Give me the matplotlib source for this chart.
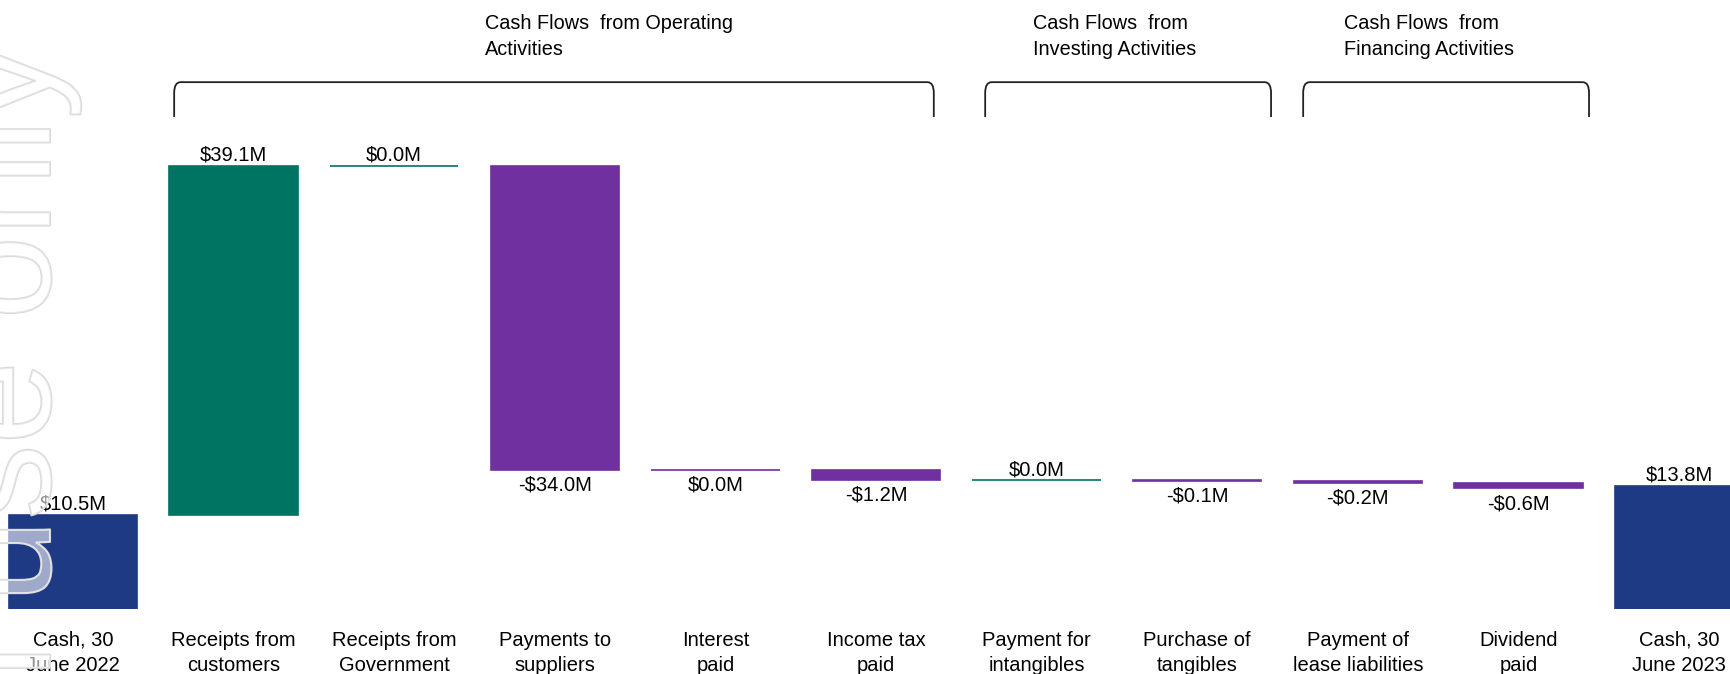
import numpy as np
import matplotlib.pyplot as plt
import matplotlib.patheffects as pe
from matplotlib.path import Path
from matplotlib.patches import PathPatch

plt.rcParams['font.family'] = ['Liberation Sans', 'DejaVu Sans']

# data (in $M)
categories = ['Cash, 30\nJune 2022', 'Receipts from\ncustomers', 'Receipts from\nGovernment',
              'Payments to\nsuppliers', 'Interest\npaid', 'Income tax\npaid',
              'Payment for\nintangibles', 'Purchase of\ntangibles', 'Payment of\nlease liabilities',
              'Dividend\npaid', 'Cash, 30\nJune 2023']
values = [10.5, 39.1, 0.0, -34.0, 0.0, -1.2, 0.0, -0.1, -0.2, -0.6, 13.8]
kinds = ['total', 'up', 'up', 'down', 'down', 'down', 'up', 'down', 'down', 'down', 'total']

group_names = ['Cash Flows  from Operating\nActivities',
               'Cash Flows  from\nInvesting Activities',
               'Cash Flows  from\nFinancing Activities']

colors = {'total': '#1F3A85', 'up': '#007462', 'down': '#7030A0'}

# waterfall bottoms / heights
bottoms = []
heights = []
running = 0.0
for v, k in zip(values, kinds):
    if k == 'total':
        bottoms.append(0.0)
        heights.append(v)
        running = v
    elif k == 'up':
        bottoms.append(running)
        heights.append(v)
        running += v
    else:
        running += v
        bottoms.append(running)
        heights.append(-v)

fig = plt.figure(figsize=(17.31, 6.74), dpi=100)
ax = fig.add_axes([0, 0.0964, 1, 0.9036])
x = np.arange(len(values))
bar_cols = [colors[k] for k in kinds]
ax.bar(x, heights, bottom=bottoms, width=0.8, color=bar_cols,
       edgecolor=bar_cols, linewidth=1.2)

ax.set_xlim(-0.4545, 10.324)
ax.set_ylim(0, 68.2)

# value labels
for i, (v, k) in enumerate(zip(values, kinds)):
    txt = ('-' if v < 0 else '') + '\\$%.1fM' % abs(v)
    if k == 'down':
        ax.annotate(txt, (i, bottoms[i]), xytext=(0, -4), textcoords='offset points',
                    ha='center', va='top', fontsize=14.5)
    else:
        ax.annotate(txt, (i, bottoms[i] + heights[i]), xytext=(0, 1), textcoords='offset points',
                    ha='center', va='bottom', fontsize=14.5)

# group brackets + headers (bracket ends / header anchors in bar units)
bracket_x = [(0.63, 5.36), (5.68, 7.46), (7.66, 9.44)]
header_x = [2.565, 5.978, 7.914]
y_top, y_bot = 59.0, 55.1
for (x0, x1), name, hx in zip(bracket_x, group_names, header_x):
    rx, ry = 0.04, 1.2
    verts = [(x0, y_bot), (x0, y_top - ry), (x0, y_top), (x0 + rx, y_top),
             (x1 - rx, y_top), (x1, y_top), (x1, y_top - ry), (x1, y_bot)]
    codes = [Path.MOVETO, Path.LINETO, Path.CURVE3, Path.CURVE3,
             Path.LINETO, Path.CURVE3, Path.CURVE3, Path.LINETO]
    ax.add_patch(PathPatch(Path(verts, codes), fill=False, edgecolor='#222222', lw=1.3))
    ax.text(hx, 66.6, name, ha='left', va='top', fontsize=14.3, linespacing=1.45)

ax.set_xticks(x)
ax.set_xticklabels(categories, fontsize=14.5, linespacing=1.4)
ax.tick_params(axis='x', length=0, pad=15.5)
ax.set_yticks([])
for s in ax.spines.values():
    s.set_visible(False)

# watermark
fig.text(50 / 1731, 1 - 45 / 674, 'For personal use only', rotation=90, rotation_mode='anchor',
         ha='right', va='baseline', fontsize=108, color=(1, 1, 1, 0.35), zorder=10,
         path_effects=[pe.withStroke(linewidth=1.5, foreground='#dadada')])

fig.savefig('out.png', dpi=100)
